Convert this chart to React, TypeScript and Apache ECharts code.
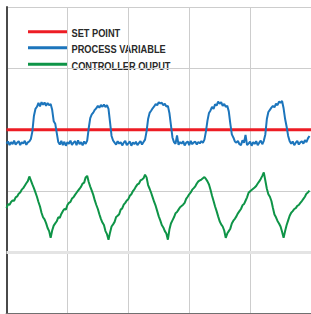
import React, { useEffect, useRef } from "react";
import * as echarts from "echarts";

// Sample spacing of the recorded trend (time units)
const STEP = 0.5;

const X_TICKS = [0, 20, 40, 60, 80, 100];
const Y_TICKS = [0, 20, 40, 60, 80, 100];

const SERIES_NAMES = ["SET POINT", "PROCESS VARIABLE", "CONTROLLER OUPUT"];

const SET_POINT_TIMES = [0, 100];
const SET_POINT = [60, 60];

const PROCESS_VARIABLE = [
  55.5, 56.2, 55.0, 56.0, 55.3, 56.5, 55.2, 55.8, 56.3, 55.0, 56.0, 55.5, 56.4, 55.1, 55.9, 56.2, 57.0,
  59.5, 64.5, 66.8, 67.5, 68.8, 67.6, 69.0, 68.2, 68.9, 67.8, 68.7, 68.0, 68.4, 66.5, 62.8, 62.0, 59.0, 56.0,
  55.2, 56.4, 55.0, 56.1, 54.8, 56.0, 55.4, 56.5, 55.1, 55.8, 56.3, 55.0, 56.6, 55.3, 56.0, 54.9, 56.2, 55.4,
  56.5, 60.5, 63.8, 65.0, 65.6, 66.5, 67.0, 67.8, 67.2, 68.1, 67.5, 68.2, 67.4, 68.0, 66.8, 62.5, 58.0, 56.5,
  55.8, 55.2, 56.3, 55.5, 56.0, 54.9, 55.8, 56.4, 55.0, 55.6, 56.2, 54.8, 55.9, 55.3, 56.1, 55.0, 55.7, 56.3, 55.2, 56.0, 56.8,
  59.5, 63.5, 65.5, 66.2, 67.0, 67.6, 68.4, 68.0, 69.0, 68.6, 68.8, 68.0, 68.5, 67.6, 67.8, 65.5, 61.5, 57.5,
  56.0, 55.4, 58.2, 55.1, 56.0, 55.5, 56.3, 54.9, 55.8, 56.2, 55.0, 56.4, 55.3, 55.9, 56.1, 55.2, 56.0, 55.6, 56.3, 55.8, 56.8,
  59.5, 63.0, 65.5, 66.3, 67.5, 66.8, 68.3, 67.9, 69.2, 68.5, 69.0, 67.8, 68.4, 67.5, 67.8, 66.0, 62.0, 58.5, 57.5,
  56.2, 55.8, 56.4, 55.3, 55.0, 56.6, 55.8, 58.3, 55.0, 55.5, 56.2, 54.8, 56.0, 55.4, 56.3, 55.0, 55.8, 56.5, 55.3, 56.4,
  58.5, 63.5, 65.8, 66.5, 67.2, 67.8, 67.3, 68.5, 68.0, 69.2, 68.8, 69.4, 67.0, 63.5, 61.0, 58.0, 56.3,
  55.5, 56.2, 55.0, 55.8, 56.4, 55.2, 55.9, 56.3, 55.5, 56.6, 56.0, 57.2, 58.0,
];

const CONTROLLER_OUTPUT = [
  34.5, 35.8, 35.6, 36.5, 37.0, 36.9, 38.0, 38.3, 39.2, 39.6, 40.5, 41.0, 41.8, 42.6, 43.3, 44.8,
  43.5, 42.2, 41.0, 39.6, 38.2, 36.5, 35.0, 33.0, 31.5, 30.8, 29.6, 28.0, 27.0, 24.8,
  27.2, 28.8, 29.5, 30.2, 31.5, 31.3, 32.6, 33.5, 34.2, 34.0, 35.5, 36.2, 36.5, 37.6, 38.0, 38.8, 39.5, 40.2, 40.8, 41.5, 42.5, 42.8, 44.5, 45.0,
  43.0, 41.5, 40.2, 38.8, 37.0, 35.5, 34.2, 32.5, 31.0, 29.8, 29.0, 27.0, 26.0, 24.2,
  26.5, 28.5, 29.2, 30.0, 31.6, 32.0, 32.5, 34.0, 34.4, 35.6, 36.2, 37.0, 37.4, 38.5, 39.0, 40.0, 40.6, 41.5, 42.2, 42.5, 43.5, 43.8, 44.2, 45.4,
  44.5, 42.0, 40.8, 39.5, 38.0, 36.5, 35.2, 33.5, 31.8, 30.5, 29.0, 28.2, 27.0, 26.2, 24.2,
  27.5, 29.5, 30.5, 31.5, 32.8, 33.2, 34.0, 34.8, 35.2, 35.6, 36.2, 37.5, 38.2, 39.0, 39.6, 40.5, 41.0, 41.6, 42.5, 43.2, 43.5, 43.8, 44.2, 44.6,
  44.0, 43.2, 42.2, 40.5, 38.5, 36.8, 35.0, 33.5, 31.8, 30.2, 29.2, 28.5, 27.2, 24.8,
  26.2, 27.0, 27.8, 29.5, 30.4, 31.0, 31.8, 32.8, 33.5, 34.2, 35.4, 35.8, 36.9, 38.0, 39.5, 40.0, 40.4, 40.8, 41.2, 41.7, 42.5, 43.2, 44.0, 45.0, 46.1,
  43.5, 40.8, 39.0, 38.2, 36.8, 34.5, 32.4, 31.5, 30.3, 29.5, 28.5, 26.8, 24.8,
  27.0, 29.0, 30.5, 32.0, 33.0, 33.5, 34.2, 34.5, 35.2, 35.5, 36.2, 36.8, 37.5, 38.2, 39.2, 39.6, 40.2,
];

const COLORS = ["#ED1C24", "#1C75BC", "#0E9447"];

export default function App() {
  const ref = useRef<HTMLDivElement>(null);

  useEffect(() => {
    if (!ref.current) return;
    const chart = echarts.init(ref.current, null, { renderer: "svg" });
    const pv = PROCESS_VARIABLE.map((v, i) => [i * STEP, v]);
    const co = CONTROLLER_OUTPUT.map((v, i) => [i * STEP, v]);
    const sp = SET_POINT.map((v, i) => [SET_POINT_TIMES[i], v]);

    // Hand-drawn legend (condensed bold text like the original)
    const legendRowsY = [31.7, 47.8, 64.3];
    const legendItems: any[] = [];
    SERIES_NAMES.forEach((name, i) => {
      legendItems.push({
        type: "line",
        shape: { x1: 28, y1: legendRowsY[i], x2: 67, y2: legendRowsY[i] },
        style: { stroke: COLORS[i], lineWidth: 3 },
        silent: true,
      });
      legendItems.push({
        type: "text",
        x: 71.5,
        y: legendRowsY[i] + 1,
        scaleX: 0.79,
        style: {
          text: name,
          fill: "#2a2a2a",
          font: "bold 11.7px 'Liberation Sans', Arial, sans-serif",
          textAlign: "left",
          textVerticalAlign: "middle",
        },
        silent: true,
      });
    });

    // split line colours per tick (the 20 line is drawn as a wider, lighter band)
    const ySplitColors = Y_TICKS.map((t) => (t === Y_TICKS[1] ? "rgba(0,0,0,0)" : "#cdcdcd"));

    chart.setOption({
      animation: false,
      backgroundColor: "#ffffff",
      color: COLORS,
      grid: { left: 6.5, top: 7, width: 307, height: 307.5, containLabel: false },
      graphic: { elements: [{ type: "group", z: 100, children: legendItems }] },
      xAxis: {
        type: "value",
        position: "top",
        min: X_TICKS[0],
        max: X_TICKS[X_TICKS.length - 1],
        interval: X_TICKS[1] - X_TICKS[0],
        axisLine: { show: true, lineStyle: { color: "#707070", width: 2 } },
        axisTick: { show: false },
        axisLabel: { show: false },
        splitLine: { show: true, lineStyle: { color: "#cdcdcd", width: 1 } },
      },
      yAxis: {
        type: "value",
        min: Y_TICKS[0],
        max: Y_TICKS[Y_TICKS.length - 1],
        interval: Y_TICKS[1] - Y_TICKS[0],
        axisLine: { show: true, onZero: false, lineStyle: { color: "#4a4a4a", width: 2 } },
        axisTick: { show: false },
        axisLabel: { show: false },
        splitLine: { show: true, lineStyle: { color: ySplitColors, width: 1 } },
      },
      series: [
        {
          name: SERIES_NAMES[0],
          type: "line",
          data: sp,
          showSymbol: false,
          symbol: "none",
          lineStyle: { width: 3, color: COLORS[0] },
          z: 2,
        },
        {
          name: SERIES_NAMES[1],
          type: "line",
          data: pv,
          showSymbol: false,
          symbol: "none",
          lineStyle: { width: 2, color: COLORS[1] },
          z: 3,
        },
        {
          name: SERIES_NAMES[2],
          type: "line",
          data: co,
          showSymbol: false,
          symbol: "none",
          lineStyle: { width: 2, color: COLORS[2] },
          z: 3,
          markLine: {
            silent: true,
            symbol: "none",
            label: { show: false },
            lineStyle: { color: "#e4e4e4", width: 3, type: "solid" },
            data: [{ yAxis: Y_TICKS[1] }],
            z: 1,
          },
        },
      ],
    });
    return () => chart.dispose();
  }, []);

  return (
    <div
      ref={ref}
      style={{ position: "fixed", left: 0, top: 0, width: 311, height: 314, background: "#fff" }}
    />
  );
}
